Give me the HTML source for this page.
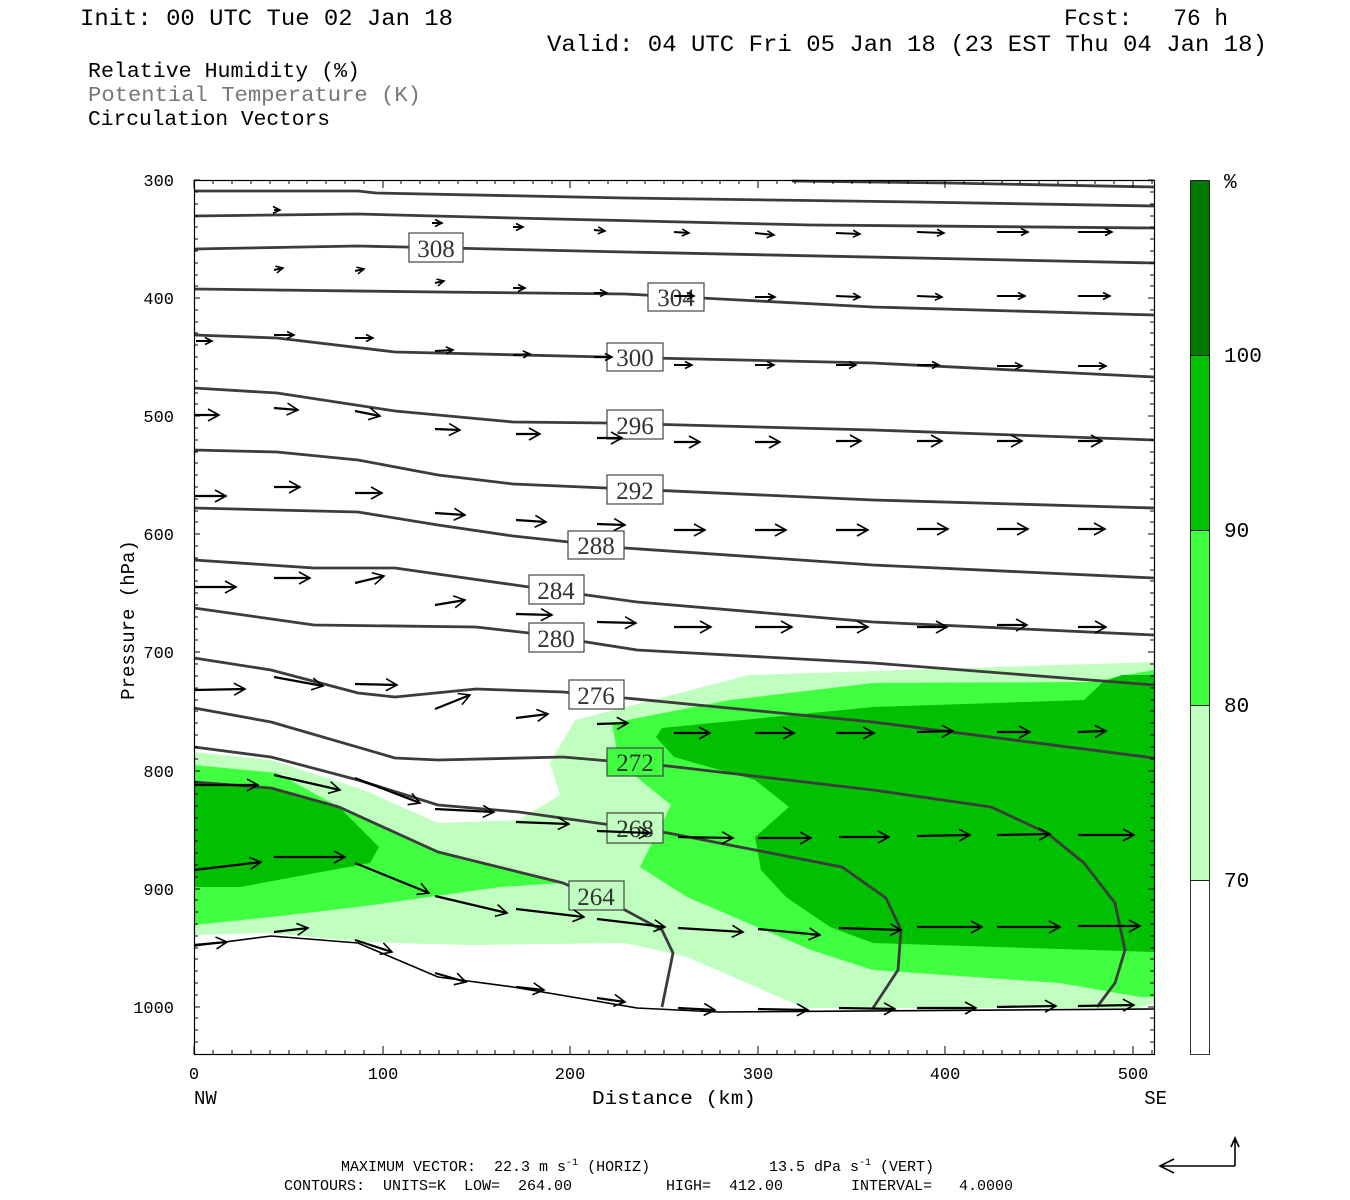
<!DOCTYPE html>
<html><head><meta charset="utf-8"><style>
html,body{margin:0;padding:0;background:#fff;width:1350px;height:1200px;overflow:hidden}
svg{display:block}
.t{font-family:"Liberation Mono",monospace;fill:#000}
.lab{font-family:"Liberation Serif",serif;font-size:25px;fill:#333}
</style></head><body>
<svg width="1350" height="1200" viewBox="0 0 1350 1200" xmlns="http://www.w3.org/2000/svg">
<defs>
<marker id="ah" markerWidth="14" markerHeight="14" refX="12" refY="7" orient="auto" markerUnits="userSpaceOnUse">
<path d="M1,1 L12,7 L1,13" fill="none" stroke="#000" stroke-width="1.6"/>
</marker>
<marker id="as" markerWidth="10" markerHeight="10" refX="8" refY="5" orient="auto" markerUnits="userSpaceOnUse">
<path d="M1,1.5 L8,5 L1,8.5" fill="none" stroke="#000" stroke-width="1.6"/>
</marker>
</defs>

<!-- header text -->
<text class="t" x="80" y="25" font-size="23" textLength="373" lengthAdjust="spacingAndGlyphs">Init: 00 UTC Tue 02 Jan 18</text>
<text class="t" x="1064" y="25" font-size="23" xml:space="preserve" textLength="164" lengthAdjust="spacingAndGlyphs">Fcst:   76 h</text>
<text class="t" x="547" y="51" font-size="23" textLength="720" lengthAdjust="spacingAndGlyphs">Valid: 04 UTC Fri 05 Jan 18 (23 EST Thu 04 Jan 18)</text>
<text class="t" x="88" y="77" font-size="21.5" textLength="272" lengthAdjust="spacingAndGlyphs">Relative Humidity (%)</text>
<text class="t" x="88" y="101" font-size="21.5" style="fill:#777" textLength="333" lengthAdjust="spacingAndGlyphs">Potential Temperature (K)</text>
<text class="t" x="88" y="125" font-size="21.5" textLength="242" lengthAdjust="spacingAndGlyphs">Circulation Vectors</text>

<!-- RH fills -->
<g stroke="none">
<polygon fill="#c0ffc0" points="1154,662 1060,665 749,675 575,720 550,763 560,795 519,820 438,823 364,790 271,760 194,752 194,935 271,933 364,942 470,945 625,943 687,957 786,1000 805,1008 1140,1008 1154,1003"/>
<polygon fill="#40ff40" points="1154,670 1091,682 873,683 730,700 612,723 619,763 671,805 640,867 687,897 811,950 873,970 1060,983 1140,997 1154,997"/>
<polygon fill="#40ff40" points="194,765 277,773 339,807 426,847 563,883 500,887 358,907 271,917 194,925"/>
<polygon fill="#00c000" points="1154,675 1122,675 1103,682 1084,700 873,707 662,728 656,737 674,757 755,780 789,807 755,837 761,870 786,897 830,927 873,943 1154,952"/>
<polygon fill="#00c000" points="194,782 271,787 339,807 379,847 370,863 240,887 194,887"/>
</g>

<!-- theta contours -->
<g fill="none" stroke="#3c3c3c" stroke-width="2.8" stroke-linejoin="round">
<polyline points="792,181 948,183 1154,187"/>
<polyline points="194,191 358,191 376,193 625,198 917,202 1154,206"/>
<polyline points="194,216 358,214 513,218 811,225 1154,228"/>
<polyline points="194,249 358,246 625,252 917,258 1154,263"/>
<polyline points="194,289 438,292 625,294 873,307 1154,315"/>
<polyline points="194,335 277,338 395,352 606,357 873,363 1154,377"/>
<polyline points="194,388 277,393 395,411 513,422 606,423 873,430 1154,440"/>
<polyline points="194,450 277,452 358,460 438,475 513,484 606,488 873,500 1154,508"/>
<polyline points="194,508 358,512 438,525 513,536 569,542 625,548 873,565 1154,578"/>
<polyline points="194,560 314,568 395,568 529,587 637,602 873,622 1154,635"/>
<polyline points="194,608 314,625 476,627 529,633 637,650 873,663 1154,685"/>
<polyline points="194,658 271,670 358,693 395,697 476,689 563,692 625,698 873,722 1154,758"/>
<polyline points="194,708 271,722 395,758 438,760 563,757 668,766 873,790 991,807 1047,833 1084,863 1115,903 1125,950 1115,983 1097,1007"/>
<polyline points="194,747 271,757 358,780 438,805 519,812 668,833 842,867 886,898 901,930 898,970 873,1008"/>
<polyline points="194,782 271,788 339,807 438,852 563,883 625,910 662,930 673,953 662,1007"/>
</g>
<polyline fill="none" stroke="#000" stroke-width="1.6" points="194,946 271,936 358,943 438,977 513,987 637,1008 718,1012 1154,1009"/>

<!-- contour labels -->
<g stroke="#444" stroke-width="1.2">
<rect x="409" y="233" width="54" height="29" fill="#fff"/>
<rect x="648" y="283" width="56" height="28" fill="#fff"/>
<rect x="607" y="343" width="56" height="28" fill="#fff"/>
<rect x="607" y="410" width="56" height="29" fill="#fff"/>
<rect x="607" y="475" width="56" height="29" fill="#fff"/>
<rect x="568" y="531" width="56" height="28" fill="#fff"/>
<rect x="529" y="575" width="55" height="29" fill="#fff"/>
<rect x="529" y="623" width="55" height="29" fill="#fff"/>
<rect x="569" y="680" width="55" height="29" fill="#fff"/>
<rect x="607" y="748" width="56" height="28" fill="#40ff40"/>
<rect x="607" y="813" width="56" height="30" fill="#c0ffc0"/>
<rect x="569" y="881" width="55" height="29" fill="#c0ffc0"/>
</g>
<g class="lab" text-anchor="middle">
<text x="436" y="257">308</text>
<text x="676" y="306">304</text>
<text x="635" y="366">300</text>
<text x="635" y="434">296</text>
<text x="635" y="499">292</text>
<text x="596" y="554">288</text>
<text x="556" y="599">284</text>
<text x="556" y="647">280</text>
<text x="596" y="704">276</text>
<text x="635" y="771">272</text>
<text x="635" y="837">268</text>
<text x="596" y="905">264</text>
</g>

<!-- vectors -->
<g stroke="#000" stroke-width="2" marker-end="url(#as)">
<line x1="274" y1="210" x2="280" y2="210"/>
<line x1="432" y1="223" x2="442" y2="223"/>
<line x1="513" y1="227" x2="523" y2="227"/>
<line x1="594" y1="230" x2="605" y2="231"/>
<line x1="674" y1="232" x2="689" y2="233"/>
<line x1="755" y1="233" x2="774" y2="235"/>
<line x1="836" y1="233" x2="860" y2="234"/>
<line x1="917" y1="232" x2="944" y2="233"/>
<line x1="997" y1="232" x2="1028" y2="232"/>
<line x1="1078" y1="232" x2="1112" y2="232"/>
<line x1="274" y1="270" x2="283" y2="268"/>
<line x1="355" y1="271" x2="364" y2="269"/>
<line x1="435" y1="283" x2="444" y2="281"/>
<line x1="513" y1="288" x2="525" y2="288"/>
<line x1="594" y1="293" x2="607" y2="293"/>
<line x1="674" y1="296" x2="694" y2="296"/>
<line x1="755" y1="297" x2="775" y2="297"/>
<line x1="836" y1="296" x2="860" y2="297"/>
<line x1="917" y1="296" x2="942" y2="297"/>
<line x1="997" y1="296" x2="1025" y2="296"/>
<line x1="1078" y1="296" x2="1110" y2="296"/>
<line x1="196" y1="341" x2="212" y2="341"/>
<line x1="274" y1="335" x2="294" y2="335"/>
<line x1="355" y1="338" x2="373" y2="338"/>
<line x1="435" y1="351" x2="453" y2="350"/>
<line x1="513" y1="355" x2="530" y2="354"/>
<line x1="594" y1="357" x2="612" y2="357"/>
<line x1="674" y1="365" x2="692" y2="365"/>
<line x1="755" y1="365" x2="774" y2="365"/>
<line x1="836" y1="365" x2="856" y2="365"/>
<line x1="917" y1="365" x2="939" y2="365"/>
<line x1="997" y1="366" x2="1022" y2="366"/>
<line x1="1078" y1="366" x2="1106" y2="366"/>
</g>
<g stroke="#000" stroke-width="2.2" marker-end="url(#ah)">
<line x1="194" y1="415" x2="219" y2="415"/>
<line x1="274" y1="408" x2="298" y2="410"/>
<line x1="355" y1="411" x2="380" y2="416"/>
<line x1="435" y1="429" x2="460" y2="430"/>
<line x1="516" y1="434" x2="540" y2="434"/>
<line x1="597" y1="438" x2="622" y2="438"/>
<line x1="674" y1="442" x2="700" y2="442"/>
<line x1="755" y1="442" x2="780" y2="442"/>
<line x1="836" y1="441" x2="861" y2="441"/>
<line x1="917" y1="441" x2="942" y2="441"/>
<line x1="997" y1="441" x2="1022" y2="441"/>
<line x1="1078" y1="441" x2="1102" y2="441"/>
<line x1="194" y1="496" x2="226" y2="496"/>
<line x1="274" y1="487" x2="300" y2="487"/>
<line x1="355" y1="493" x2="382" y2="493"/>
<line x1="435" y1="513" x2="465" y2="515"/>
<line x1="516" y1="520" x2="546" y2="522"/>
<line x1="597" y1="524" x2="625" y2="525"/>
<line x1="674" y1="530" x2="705" y2="530"/>
<line x1="755" y1="530" x2="786" y2="530"/>
<line x1="836" y1="530" x2="868" y2="530"/>
<line x1="917" y1="529" x2="948" y2="529"/>
<line x1="997" y1="529" x2="1028" y2="529"/>
<line x1="1078" y1="529" x2="1105" y2="529"/>
<line x1="194" y1="587" x2="236" y2="587"/>
<line x1="274" y1="578" x2="310" y2="578"/>
<line x1="355" y1="583" x2="384" y2="576"/>
<line x1="435" y1="605" x2="465" y2="600"/>
<line x1="516" y1="614" x2="552" y2="615"/>
<line x1="597" y1="622" x2="636" y2="623"/>
<line x1="674" y1="627" x2="711" y2="627"/>
<line x1="755" y1="627" x2="792" y2="627"/>
<line x1="836" y1="627" x2="868" y2="627"/>
<line x1="917" y1="627" x2="947" y2="627"/>
<line x1="997" y1="625" x2="1027" y2="625"/>
<line x1="1078" y1="627" x2="1106" y2="627"/>
<line x1="194" y1="690" x2="245" y2="689"/>
<line x1="274" y1="677" x2="323" y2="686"/>
<line x1="355" y1="684" x2="397" y2="685"/>
<line x1="435" y1="709" x2="470" y2="695"/>
<line x1="516" y1="718" x2="548" y2="714"/>
<line x1="597" y1="724" x2="628" y2="723"/>
<line x1="674" y1="733" x2="710" y2="733"/>
<line x1="755" y1="733" x2="794" y2="733"/>
<line x1="836" y1="733" x2="874" y2="733"/>
<line x1="917" y1="732" x2="953" y2="731"/>
<line x1="997" y1="732" x2="1030" y2="732"/>
<line x1="1078" y1="732" x2="1106" y2="731"/>
<line x1="194" y1="785" x2="258" y2="785"/>
<line x1="274" y1="775" x2="340" y2="790"/>
<line x1="355" y1="778" x2="420" y2="803"/>
<line x1="435" y1="809" x2="494" y2="812"/>
<line x1="516" y1="822" x2="569" y2="824"/>
<line x1="597" y1="831" x2="650" y2="833"/>
<line x1="678" y1="837" x2="733" y2="838"/>
<line x1="758" y1="838" x2="811" y2="838"/>
<line x1="839" y1="837" x2="889" y2="837"/>
<line x1="917" y1="836" x2="970" y2="835"/>
<line x1="997" y1="835" x2="1050" y2="834"/>
<line x1="1078" y1="835" x2="1134" y2="835"/>
<line x1="194" y1="870" x2="261" y2="862"/>
<line x1="274" y1="857" x2="345" y2="857"/>
<line x1="355" y1="863" x2="429" y2="893"/>
<line x1="435" y1="896" x2="507" y2="913"/>
<line x1="516" y1="909" x2="584" y2="917"/>
<line x1="597" y1="919" x2="665" y2="927"/>
<line x1="678" y1="928" x2="743" y2="932"/>
<line x1="758" y1="929" x2="820" y2="935"/>
<line x1="839" y1="928" x2="901" y2="930"/>
<line x1="917" y1="927" x2="982" y2="927"/>
<line x1="997" y1="927" x2="1060" y2="927"/>
<line x1="1078" y1="926" x2="1140" y2="926"/>
<line x1="194" y1="945" x2="227" y2="942"/>
<line x1="274" y1="932" x2="308" y2="928"/>
<line x1="355" y1="940" x2="392" y2="952"/>
<line x1="435" y1="973" x2="466" y2="982"/>
<line x1="516" y1="987" x2="544" y2="990"/>
<line x1="597" y1="998" x2="625" y2="1002"/>
<line x1="678" y1="1008" x2="715" y2="1010"/>
<line x1="758" y1="1009" x2="808" y2="1010"/>
<line x1="839" y1="1008" x2="895" y2="1009"/>
<line x1="917" y1="1008" x2="976" y2="1008"/>
<line x1="997" y1="1007" x2="1056" y2="1006"/>
<line x1="1078" y1="1006" x2="1134" y2="1005"/>
</g>

<!-- frame & ticks -->
<rect x="194.5" y="180.5" width="960" height="874" fill="none" stroke="#000" stroke-width="1.2"/>
<g stroke="#000" stroke-width="1">
<path id="ty" d="M194,180h6M194,192h4M194,204h4M194,216h4M194,227h4M194,239h4M194,251h4M194,263h4M194,275h4M194,286h4M194,298h6M194,310h4M194,322h4M194,333h4M194,345h4M194,357h4M194,369h4M194,381h4M194,393h4M194,404h4M194,416h6M194,428h4M194,440h4M194,452h4M194,463h4M194,475h4M194,487h4M194,499h4M194,511h4M194,522h4M194,534h6M194,546h4M194,558h4M194,570h4M194,581h4M194,593h4M194,605h4M194,617h4M194,629h4M194,640h4M194,652h6M194,664h4M194,676h4M194,688h4M194,700h4M194,711h4M194,723h4M194,735h4M194,747h4M194,759h4M194,771h6M194,782h4M194,794h4M194,806h4M194,818h4M194,830h4M194,841h4M194,853h4M194,865h4M194,877h4M194,889h6M194,900h4M194,912h4M194,924h4M194,936h4M194,948h4M194,959h4M194,971h4M194,983h4M194,995h4M194,1007h6M194,1018h4M194,1030h4M194,1042h4"/>
<use href="#ty" transform="translate(1348,0) scale(-1,1)"/>
<path id="tx" d="M194,1054v-8M213,1054v-4M232,1054v-4M251,1054v-4M270,1054v-4M289,1054v-4M307,1054v-4M326,1054v-4M345,1054v-4M364,1054v-4M383,1054v-8M401,1054v-4M420,1054v-4M439,1054v-4M458,1054v-4M477,1054v-4M495,1054v-4M514,1054v-4M533,1054v-4M552,1054v-4M570,1054v-8M589,1054v-4M608,1054v-4M627,1054v-4M645,1054v-4M664,1054v-4M683,1054v-4M702,1054v-4M720,1054v-4M739,1054v-4M758,1054v-8M777,1054v-4M795,1054v-4M814,1054v-4M833,1054v-4M852,1054v-4M870,1054v-4M889,1054v-4M908,1054v-4M927,1054v-4M945,1054v-8M964,1054v-4M983,1054v-4M1002,1054v-4M1020,1054v-4M1039,1054v-4M1058,1054v-4M1077,1054v-4M1095,1054v-4M1114,1054v-4M1133,1054v-8M1152,1054v-4"/>
<use href="#tx" transform="translate(0,1234) scale(1,-1)"/>
</g>

<!-- axis labels -->
<g class="t" font-size="17" text-anchor="end">
<text x="174" y="186">300</text><text x="174" y="304">400</text><text x="174" y="422">500</text>
<text x="174" y="540">600</text><text x="174" y="658">700</text><text x="174" y="777">800</text>
<text x="174" y="895">900</text><text x="174" y="1013">1000</text>
</g>
<g class="t" font-size="17" text-anchor="middle">
<text x="194" y="1079">0</text><text x="383" y="1079">100</text><text x="570" y="1079">200</text>
<text x="758" y="1079">300</text><text x="945" y="1079">400</text><text x="1133" y="1079">500</text>
</g>
<text class="t" x="194" y="1104" font-size="19">NW</text>
<text class="t" x="1167" y="1104" font-size="19" text-anchor="end">SE</text>
<text class="t" x="592" y="1104" font-size="19" textLength="164" lengthAdjust="spacingAndGlyphs">Distance (km)</text>
<text class="t" x="0" y="0" font-size="19" text-anchor="middle" transform="translate(134,620) rotate(-90)">Pressure (hPa)</text>

<!-- colorbar -->
<g stroke="#000" stroke-width="0.8">
<rect x="1190.5" y="180.5" width="19" height="175" fill="#007800"/>
<rect x="1190.5" y="355.5" width="19" height="175" fill="#00c000"/>
<rect x="1190.5" y="530.5" width="19" height="175" fill="#40ff40"/>
<rect x="1190.5" y="705.5" width="19" height="175" fill="#c0ffc0"/>
<rect x="1190.5" y="880.5" width="19" height="174" fill="#fff"/>
</g>
<g class="t" font-size="21">
<text x="1224" y="188">%</text>
<text x="1224" y="362">100</text>
<text x="1224" y="537">90</text>
<text x="1224" y="712">80</text>
<text x="1224" y="887">70</text>
</g>

<!-- footer -->
<text class="t" x="341" y="1171" font-size="15" xml:space="preserve">MAXIMUM VECTOR:  22.3 m s<tspan dy="-6" font-size="10">-1</tspan><tspan dy="6"> (HORIZ)</tspan></text>
<text class="t" x="769" y="1171" font-size="15" xml:space="preserve">13.5 dPa s<tspan dy="-6" font-size="10">-1</tspan><tspan dy="6"> (VERT)</tspan></text>
<text class="t" x="284" y="1190" font-size="15" xml:space="preserve">CONTOURS:  UNITS=K  LOW=  264.00</text>
<text class="t" x="666" y="1190" font-size="15" xml:space="preserve">HIGH=  412.00</text>
<text class="t" x="851" y="1190" font-size="15" xml:space="preserve">INTERVAL=   4.0000</text>
<g fill="none" stroke="#000" stroke-width="1.6">
<path d="M1235,1166H1160M1174,1159L1160,1166L1174,1173"/>
<path d="M1235,1166V1138M1231,1147L1235,1138L1239,1147"/>
</g>
</svg>
</body></html>
